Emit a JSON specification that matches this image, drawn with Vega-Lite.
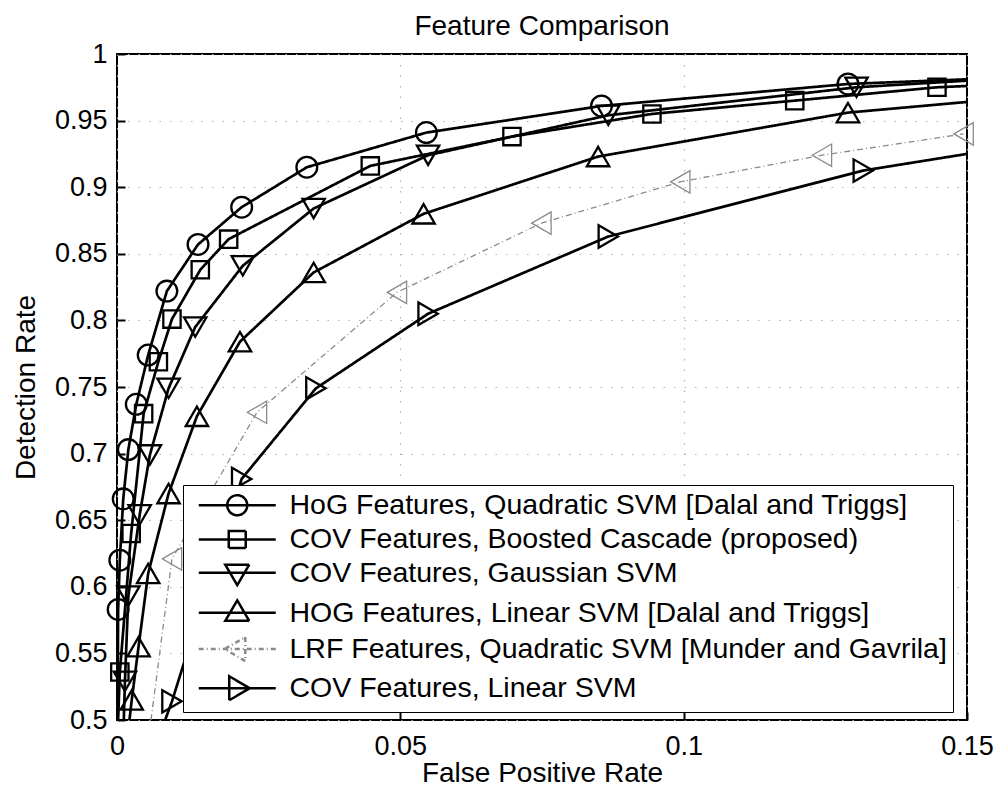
{
  "$schema": "https://vega.github.io/schema/vega-lite/v6.json",
  "width": 850,
  "height": 666,
  "autosize": {"type": "none"},
  "padding": {"left": 117, "top": 54, "right": 34, "bottom": 71},
  "background": "white",
  "config": {
    "font": "Liberation Sans",
    "view": {"stroke": "black", "strokeWidth": 2},
    "axis": {
      "labelFontSize": 27, "titleFontSize": 28, "titleFontWeight": "normal",
      "labelColor": "black", "titleColor": "black", "domain": false,
      "tickColor": "black", "tickWidth": 2, "tickSize": -8,
      "grid": true, "gridColor": "#b0b0b0", "gridDash": [1.5, 9], "gridWidth": 1.2,
      "labelFont": "Liberation Sans", "titleFont": "Liberation Sans"
    },
    "legend": {
      "symbolOpacity": 1, "symbolFillColor": "transparent", "symbolSize": 400,
      "labelFontSize": 28.5, "labelColor": "black", "labelFont": "Liberation Sans", "labelLimit": 900,
      "fillColor": "white", "strokeColor": "black", "padding": 6,
      "symbolOffset": 34, "labelOffset": 38, "rowPadding": 4.2
    }
  },
  "title": {"text": "Feature Comparison", "fontSize": 28, "fontWeight": "normal", "font": "Liberation Sans", "color": "black", "offset": -1},
  "data": {"values": [
    {"s": "HoG Features, Quadratic SVM [Dalal and Triggs]", "x": 0.0001, "y": 0.5, "m": 0},
    {"s": "HoG Features, Quadratic SVM [Dalal and Triggs]", "x": 0.0002, "y": 0.583, "m": 1},
    {"s": "HoG Features, Quadratic SVM [Dalal and Triggs]", "x": 0.0005, "y": 0.620, "m": 1},
    {"s": "HoG Features, Quadratic SVM [Dalal and Triggs]", "x": 0.0011, "y": 0.666, "m": 1},
    {"s": "HoG Features, Quadratic SVM [Dalal and Triggs]", "x": 0.0020, "y": 0.703, "m": 1},
    {"s": "HoG Features, Quadratic SVM [Dalal and Triggs]", "x": 0.0034, "y": 0.737, "m": 1},
    {"s": "HoG Features, Quadratic SVM [Dalal and Triggs]", "x": 0.0055, "y": 0.774, "m": 1},
    {"s": "HoG Features, Quadratic SVM [Dalal and Triggs]", "x": 0.0088, "y": 0.822, "m": 1},
    {"s": "HoG Features, Quadratic SVM [Dalal and Triggs]", "x": 0.0143, "y": 0.857, "m": 1},
    {"s": "HoG Features, Quadratic SVM [Dalal and Triggs]", "x": 0.0220, "y": 0.885, "m": 1},
    {"s": "HoG Features, Quadratic SVM [Dalal and Triggs]", "x": 0.0335, "y": 0.915, "m": 1},
    {"s": "HoG Features, Quadratic SVM [Dalal and Triggs]", "x": 0.0546, "y": 0.941, "m": 1},
    {"s": "HoG Features, Quadratic SVM [Dalal and Triggs]", "x": 0.0855, "y": 0.961, "m": 1},
    {"s": "HoG Features, Quadratic SVM [Dalal and Triggs]", "x": 0.1290, "y": 0.9775, "m": 1},
    {"s": "HoG Features, Quadratic SVM [Dalal and Triggs]", "x": 0.1500, "y": 0.981, "m": 0},

    {"s": "COV Features, Boosted Cascade (proposed)", "x": 0.0002, "y": 0.5, "m": 0},
    {"s": "COV Features, Boosted Cascade (proposed)", "x": 0.0005, "y": 0.536, "m": 1},
    {"s": "COV Features, Boosted Cascade (proposed)", "x": 0.0025, "y": 0.640, "m": 1},
    {"s": "COV Features, Boosted Cascade (proposed)", "x": 0.0047, "y": 0.730, "m": 1},
    {"s": "COV Features, Boosted Cascade (proposed)", "x": 0.0073, "y": 0.769, "m": 1},
    {"s": "COV Features, Boosted Cascade (proposed)", "x": 0.0097, "y": 0.801, "m": 1},
    {"s": "COV Features, Boosted Cascade (proposed)", "x": 0.0147, "y": 0.838, "m": 1},
    {"s": "COV Features, Boosted Cascade (proposed)", "x": 0.0197, "y": 0.861, "m": 1},
    {"s": "COV Features, Boosted Cascade (proposed)", "x": 0.0447, "y": 0.916, "m": 1},
    {"s": "COV Features, Boosted Cascade (proposed)", "x": 0.0697, "y": 0.938, "m": 1},
    {"s": "COV Features, Boosted Cascade (proposed)", "x": 0.0944, "y": 0.955, "m": 1},
    {"s": "COV Features, Boosted Cascade (proposed)", "x": 0.1196, "y": 0.965, "m": 1},
    {"s": "COV Features, Boosted Cascade (proposed)", "x": 0.1447, "y": 0.975, "m": 1},
    {"s": "COV Features, Boosted Cascade (proposed)", "x": 0.1500, "y": 0.976, "m": 0},

    {"s": "COV Features, Gaussian SVM", "x": 0.0012, "y": 0.5, "m": 0},
    {"s": "COV Features, Gaussian SVM", "x": 0.0014, "y": 0.529, "m": 1},
    {"s": "COV Features, Gaussian SVM", "x": 0.0020, "y": 0.593, "m": 1},
    {"s": "COV Features, Gaussian SVM", "x": 0.0040, "y": 0.654, "m": 1},
    {"s": "COV Features, Gaussian SVM", "x": 0.0058, "y": 0.699, "m": 1},
    {"s": "COV Features, Gaussian SVM", "x": 0.0091, "y": 0.749, "m": 1},
    {"s": "COV Features, Gaussian SVM", "x": 0.0138, "y": 0.795, "m": 1},
    {"s": "COV Features, Gaussian SVM", "x": 0.0222, "y": 0.841, "m": 1},
    {"s": "COV Features, Gaussian SVM", "x": 0.0347, "y": 0.884, "m": 1},
    {"s": "COV Features, Gaussian SVM", "x": 0.0549, "y": 0.924, "m": 1},
    {"s": "COV Features, Gaussian SVM", "x": 0.0867, "y": 0.954, "m": 1},
    {"s": "COV Features, Gaussian SVM", "x": 0.1305, "y": 0.975, "m": 1},
    {"s": "COV Features, Gaussian SVM", "x": 0.1500, "y": 0.980, "m": 0},

    {"s": "HOG Features, Linear SVM [Dalal and Triggs]", "x": 0.0022, "y": 0.5, "m": 0},
    {"s": "HOG Features, Linear SVM [Dalal and Triggs]", "x": 0.0026, "y": 0.515, "m": 1},
    {"s": "HOG Features, Linear SVM [Dalal and Triggs]", "x": 0.0038, "y": 0.555, "m": 1},
    {"s": "HOG Features, Linear SVM [Dalal and Triggs]", "x": 0.0055, "y": 0.610, "m": 1},
    {"s": "HOG Features, Linear SVM [Dalal and Triggs]", "x": 0.0091, "y": 0.670, "m": 1},
    {"s": "HOG Features, Linear SVM [Dalal and Triggs]", "x": 0.0141, "y": 0.728, "m": 1},
    {"s": "HOG Features, Linear SVM [Dalal and Triggs]", "x": 0.0217, "y": 0.784, "m": 1},
    {"s": "HOG Features, Linear SVM [Dalal and Triggs]", "x": 0.0347, "y": 0.836, "m": 1},
    {"s": "HOG Features, Linear SVM [Dalal and Triggs]", "x": 0.0541, "y": 0.880, "m": 1},
    {"s": "HOG Features, Linear SVM [Dalal and Triggs]", "x": 0.0849, "y": 0.923, "m": 1},
    {"s": "HOG Features, Linear SVM [Dalal and Triggs]", "x": 0.1290, "y": 0.956, "m": 1},
    {"s": "HOG Features, Linear SVM [Dalal and Triggs]", "x": 0.1500, "y": 0.964, "m": 0},

    {"s": "LRF Features, Quadratic SVM [Munder and Gavrila]", "x": 0.0060, "y": 0.5, "m": 0},
    {"s": "LRF Features, Quadratic SVM [Munder and Gavrila]", "x": 0.0097, "y": 0.621, "m": 1},
    {"s": "LRF Features, Quadratic SVM [Munder and Gavrila]", "x": 0.0247, "y": 0.731, "m": 1},
    {"s": "LRF Features, Quadratic SVM [Munder and Gavrila]", "x": 0.0494, "y": 0.821, "m": 1},
    {"s": "LRF Features, Quadratic SVM [Munder and Gavrila]", "x": 0.0749, "y": 0.873, "m": 1},
    {"s": "LRF Features, Quadratic SVM [Munder and Gavrila]", "x": 0.0994, "y": 0.904, "m": 1},
    {"s": "LRF Features, Quadratic SVM [Munder and Gavrila]", "x": 0.1244, "y": 0.924, "m": 1},
    {"s": "LRF Features, Quadratic SVM [Munder and Gavrila]", "x": 0.1494, "y": 0.940, "m": 1},

    {"s": "COV Features, Linear SVM", "x": 0.0085, "y": 0.5, "m": 0},
    {"s": "COV Features, Linear SVM", "x": 0.0097, "y": 0.514, "m": 1},
    {"s": "COV Features, Linear SVM", "x": 0.0220, "y": 0.681, "m": 1},
    {"s": "COV Features, Linear SVM", "x": 0.0351, "y": 0.749, "m": 1},
    {"s": "COV Features, Linear SVM", "x": 0.0549, "y": 0.805, "m": 1},
    {"s": "COV Features, Linear SVM", "x": 0.0867, "y": 0.863, "m": 1},
    {"s": "COV Features, Linear SVM", "x": 0.1317, "y": 0.9125, "m": 1},
    {"s": "COV Features, Linear SVM", "x": 0.1500, "y": 0.925, "m": 0}
  ]},
  "encoding": {
    "x": {"field": "x", "type": "quantitative", "title": "False Positive Rate",
      "scale": {"domain": [0, 0.15], "nice": false, "zero": false},
      "axis": {"values": [0, 0.05, 0.1, 0.15], "format": ".2~f", "labelFlush": false, "labelPadding": 21, "titlePadding": 0, "labelLimit": 300}},
    "y": {"field": "y", "type": "quantitative", "title": "Detection Rate",
      "scale": {"domain": [0.5, 1], "nice": false, "zero": false},
      "axis": {"values": [0.5, 0.55, 0.6, 0.65, 0.7, 0.75, 0.8, 0.85, 0.9, 0.95, 1], "format": ".2~f", "labelPadding": 18, "titlePadding": 14}}
  },
  "layer": [
    {
      "mark": {"type": "line", "clip": true},
      "encoding": {
        "detail": {"field": "s"},
        "color": {"condition": {"test": "datum.s == 'LRF Features, Quadratic SVM [Munder and Gavrila]'", "value": "#8a8a8a"}, "value": "black"},
        "strokeDash": {"condition": {"test": "datum.s == 'LRF Features, Quadratic SVM [Munder and Gavrila]'", "value": [6, 3, 1, 3]}, "value": [1, 0]},
        "strokeWidth": {"condition": {"test": "datum.s == 'LRF Features, Quadratic SVM [Munder and Gavrila]'", "value": 1.3}, "value": 2.7},
        "order": {"field": "x", "type": "quantitative"}
      }
    },
    {
      "transform": [{"filter": "datum.m == 1"}],
      "mark": {"type": "point", "filled": false, "opacity": 1},
      "encoding": {
        "color": {"condition": {"test": "datum.s == 'LRF Features, Quadratic SVM [Munder and Gavrila]'", "value": "#8a8a8a"}, "value": "black"},
        "strokeWidth": {"condition": {"test": "datum.s == 'LRF Features, Quadratic SVM [Munder and Gavrila]'", "value": 1.3}, "value": 2.3},
        "size": {"condition": [
          {"test": "datum.s == 'COV Features, Boosted Cascade (proposed)'", "value": 300},
          {"test": "datum.s == 'HoG Features, Quadratic SVM [Dalal and Triggs]'", "value": 430}
        ], "value": 500},
        "shape": {"condition": [
          {"test": "datum.s == 'HoG Features, Quadratic SVM [Dalal and Triggs]'", "value": "circle"},
          {"test": "datum.s == 'COV Features, Boosted Cascade (proposed)'", "value": "square"},
          {"test": "datum.s == 'COV Features, Gaussian SVM'", "value": "triangle-down"},
          {"test": "datum.s == 'HOG Features, Linear SVM [Dalal and Triggs]'", "value": "triangle-up"},
          {"test": "datum.s == 'LRF Features, Quadratic SVM [Munder and Gavrila]'", "value": "triangle-left"}
        ], "value": "triangle-right"}
      }
    },
    {
      "transform": [{"filter": "datum.m == 1"}],
      "mark": {"type": "point", "filled": false, "opacity": 0},
      "encoding": {
        "shape": {"field": "s", "type": "nominal", "title": null,
          "scale": {"domain": ["HoG Features, Quadratic SVM [Dalal and Triggs]", "COV Features, Boosted Cascade (proposed)", "COV Features, Gaussian SVM", "HOG Features, Linear SVM [Dalal and Triggs]", "LRF Features, Quadratic SVM [Munder and Gavrila]", "COV Features, Linear SVM"],
            "range": ["M-3.85,0H3.85M-1,0A1,1 0 1,1 1,0A1,1 0 1,1 -1,0", "M-3.85,0H3.85M-0.85,-0.85H0.85V0.85H-0.85Z", "M-3.85,0H3.85M-1.2,-0.8H1.2L0,1.25Z", "M-3.85,0H3.85M-1.2,0.8H1.2L0,-1.25Z", "M-3.85,0H3.85M0.8,-1.2V1.2L-1.25,0Z", "M-3.85,0H3.85M-0.8,-1.2V1.2L1.25,0Z"]},
          "legend": {"orient": "none", "legendX": 66, "legendY": 431}},
        "color": {"field": "s", "type": "nominal", "title": null,
          "scale": {"domain": ["HoG Features, Quadratic SVM [Dalal and Triggs]", "COV Features, Boosted Cascade (proposed)", "COV Features, Gaussian SVM", "HOG Features, Linear SVM [Dalal and Triggs]", "LRF Features, Quadratic SVM [Munder and Gavrila]", "COV Features, Linear SVM"],
            "range": ["black", "black", "black", "black", "#8a8a8a", "black"]},
          "legend": {"orient": "none", "legendX": 66, "legendY": 431}},
        "strokeDash": {"field": "s", "type": "nominal", "title": null,
          "scale": {"domain": ["HoG Features, Quadratic SVM [Dalal and Triggs]", "COV Features, Boosted Cascade (proposed)", "COV Features, Gaussian SVM", "HOG Features, Linear SVM [Dalal and Triggs]", "LRF Features, Quadratic SVM [Munder and Gavrila]", "COV Features, Linear SVM"],
            "range": [[1, 0], [1, 0], [1, 0], [1, 0], [5, 3, 1, 3], [1, 0]]},
          "legend": {"orient": "none", "legendX": 66, "legendY": 431}},
        "strokeWidth": {"field": "s", "type": "nominal", "title": null,
          "scale": {"domain": ["HoG Features, Quadratic SVM [Dalal and Triggs]", "COV Features, Boosted Cascade (proposed)", "COV Features, Gaussian SVM", "HOG Features, Linear SVM [Dalal and Triggs]", "LRF Features, Quadratic SVM [Munder and Gavrila]", "COV Features, Linear SVM"],
            "range": [2.5, 2.5, 2.5, 2.5, 1.3, 2.5]},
          "legend": {"orient": "none", "legendX": 66, "legendY": 431}}
      }
    }
  ]
}
